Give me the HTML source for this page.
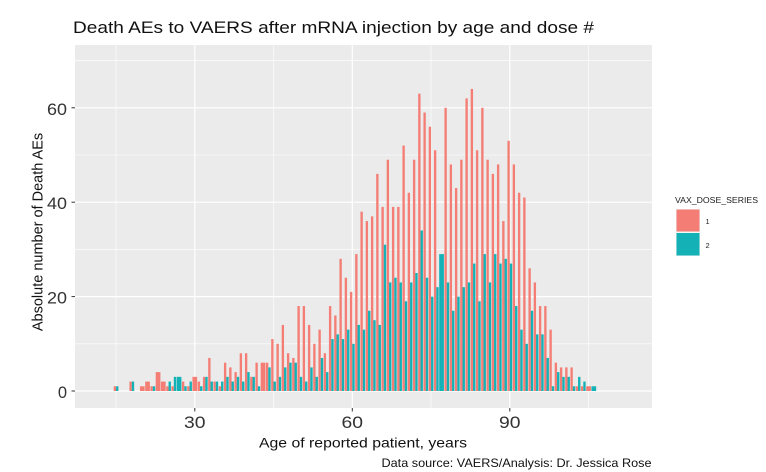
<!DOCTYPE html>
<html><head><meta charset="utf-8"><style>
html,body{margin:0;padding:0;background:#fff;}
svg{display:block;}
text{font-family:"Liberation Sans",Arial,sans-serif;}
</style></head><body>
<svg width="766" height="472" viewBox="0 0 766 472" xmlns="http://www.w3.org/2000/svg">
<rect x="0" y="0" width="766" height="472" fill="#fff"/>
<text x="73" y="33" font-size="16.5" fill="#111" textLength="521" lengthAdjust="spacingAndGlyphs">Death AEs to VAERS after mRNA injection by age and dose #</text>
<rect x="75" y="45" width="577" height="363" fill="#EBEBEB"/>
<g stroke="#fff" stroke-width="0.6">
<line x1="75" x2="652" y1="343.8" y2="343.8"/>
<line x1="75" x2="652" y1="249.4" y2="249.4"/>
<line x1="75" x2="652" y1="155" y2="155"/>
<line x1="75" x2="652" y1="60.6" y2="60.6"/>
<line y1="45" y2="408" x1="116.05" x2="116.05"/>
<line y1="45" y2="408" x1="273.55" x2="273.55"/>
<line y1="45" y2="408" x1="431.05" x2="431.05"/>
<line y1="45" y2="408" x1="588.55" x2="588.55"/>
</g>
<g stroke="#fff" stroke-width="1.2">
<line x1="75" x2="652" y1="391" y2="391"/>
<line x1="75" x2="652" y1="296.6" y2="296.6"/>
<line x1="75" x2="652" y1="202.2" y2="202.2"/>
<line x1="75" x2="652" y1="107.8" y2="107.8"/>
<line y1="45" y2="408" x1="194.8" x2="194.8"/>
<line y1="45" y2="408" x1="352.3" x2="352.3"/>
<line y1="45" y2="408" x1="509.8" x2="509.8"/>
</g>
<g transform="translate(37.3,391) scale(5.25,-4.72)">
<g fill="#F47E75">
<rect x="14.55" y="0" width="0.45" height="1"/>
<rect x="17.55" y="0" width="0.45" height="2"/>
<rect x="19.55" y="0" width="0.9" height="1"/>
<rect x="20.55" y="0" width="0.9" height="2"/>
<rect x="21.55" y="0" width="0.45" height="1"/>
<rect x="22.55" y="0" width="0.9" height="4"/>
<rect x="23.55" y="0" width="0.9" height="2"/>
<rect x="24.55" y="0" width="0.45" height="1"/>
<rect x="25.55" y="0" width="0.45" height="1"/>
<rect x="27.55" y="0" width="0.45" height="2"/>
<rect x="28.55" y="0" width="0.45" height="1"/>
<rect x="29.55" y="0" width="0.9" height="3"/>
<rect x="30.55" y="0" width="0.45" height="2"/>
<rect x="31.55" y="0" width="0.45" height="3"/>
<rect x="32.55" y="0" width="0.45" height="7"/>
<rect x="33.55" y="0" width="0.45" height="2"/>
<rect x="34.55" y="0" width="0.45" height="1"/>
<rect x="35.55" y="0" width="0.45" height="6"/>
<rect x="36.55" y="0" width="0.45" height="5"/>
<rect x="37.55" y="0" width="0.45" height="4"/>
<rect x="38.55" y="0" width="0.45" height="8"/>
<rect x="39.55" y="0" width="0.45" height="8"/>
<rect x="40.55" y="0" width="0.45" height="3"/>
<rect x="41.55" y="0" width="0.45" height="6"/>
<rect x="42.55" y="0" width="0.9" height="6"/>
<rect x="43.55" y="0" width="0.45" height="6"/>
<rect x="44.55" y="0" width="0.45" height="11"/>
<rect x="45.55" y="0" width="0.45" height="10"/>
<rect x="46.55" y="0" width="0.45" height="14"/>
<rect x="47.55" y="0" width="0.45" height="8"/>
<rect x="48.55" y="0" width="0.45" height="7"/>
<rect x="49.55" y="0" width="0.45" height="18"/>
<rect x="50.55" y="0" width="0.45" height="18"/>
<rect x="51.55" y="0" width="0.45" height="14"/>
<rect x="52.55" y="0" width="0.45" height="10"/>
<rect x="53.55" y="0" width="0.45" height="13"/>
<rect x="54.55" y="0" width="0.45" height="8"/>
<rect x="55.55" y="0" width="0.45" height="18"/>
<rect x="56.55" y="0" width="0.45" height="16"/>
<rect x="57.55" y="0" width="0.45" height="28"/>
<rect x="58.55" y="0" width="0.45" height="24"/>
<rect x="59.55" y="0" width="0.45" height="21"/>
<rect x="60.55" y="0" width="0.45" height="29"/>
<rect x="61.55" y="0" width="0.45" height="38"/>
<rect x="62.55" y="0" width="0.45" height="36"/>
<rect x="63.55" y="0" width="0.45" height="37"/>
<rect x="64.55" y="0" width="0.45" height="46"/>
<rect x="65.55" y="0" width="0.45" height="39"/>
<rect x="66.55" y="0" width="0.45" height="49"/>
<rect x="67.55" y="0" width="0.45" height="39"/>
<rect x="68.55" y="0" width="0.45" height="39"/>
<rect x="69.55" y="0" width="0.45" height="52"/>
<rect x="70.55" y="0" width="0.45" height="42"/>
<rect x="71.55" y="0" width="0.45" height="49"/>
<rect x="72.55" y="0" width="0.45" height="63"/>
<rect x="73.55" y="0" width="0.45" height="59"/>
<rect x="74.55" y="0" width="0.45" height="56"/>
<rect x="75.55" y="0" width="0.45" height="51"/>
<rect x="77.55" y="0" width="0.45" height="60"/>
<rect x="78.55" y="0" width="0.45" height="48"/>
<rect x="79.55" y="0" width="0.45" height="43"/>
<rect x="80.55" y="0" width="0.45" height="49"/>
<rect x="81.55" y="0" width="0.45" height="62"/>
<rect x="82.55" y="0" width="0.45" height="64"/>
<rect x="83.55" y="0" width="0.45" height="51"/>
<rect x="84.55" y="0" width="0.45" height="60"/>
<rect x="85.55" y="0" width="0.45" height="49"/>
<rect x="86.55" y="0" width="0.45" height="46"/>
<rect x="87.55" y="0" width="0.45" height="48"/>
<rect x="88.55" y="0" width="0.45" height="36"/>
<rect x="89.55" y="0" width="0.45" height="53"/>
<rect x="90.55" y="0" width="0.45" height="48"/>
<rect x="91.55" y="0" width="0.45" height="42"/>
<rect x="92.55" y="0" width="0.45" height="41"/>
<rect x="93.55" y="0" width="0.45" height="26"/>
<rect x="94.55" y="0" width="0.45" height="23"/>
<rect x="95.55" y="0" width="0.45" height="18"/>
<rect x="96.55" y="0" width="0.45" height="18"/>
<rect x="97.55" y="0" width="0.45" height="13"/>
<rect x="98.55" y="0" width="0.45" height="6"/>
<rect x="99.55" y="0" width="0.45" height="5"/>
<rect x="100.55" y="0" width="0.45" height="5"/>
<rect x="101.55" y="0" width="0.45" height="5"/>
<rect x="102.55" y="0" width="0.45" height="1"/>
<rect x="103.55" y="0" width="0.45" height="1"/>
<rect x="104.55" y="0" width="0.9" height="1"/>
</g>
<g fill="#14B2B6">
<rect x="15" y="0" width="0.45" height="1"/>
<rect x="18" y="0" width="0.45" height="2"/>
<rect x="22" y="0" width="0.45" height="1"/>
<rect x="25" y="0" width="0.45" height="2"/>
<rect x="26" y="0" width="0.45" height="3"/>
<rect x="26.55" y="0" width="0.9" height="3"/>
<rect x="28" y="0" width="0.45" height="1"/>
<rect x="29" y="0" width="0.45" height="2"/>
<rect x="31" y="0" width="0.45" height="1"/>
<rect x="32" y="0" width="0.45" height="3"/>
<rect x="33" y="0" width="0.45" height="2"/>
<rect x="34" y="0" width="0.45" height="2"/>
<rect x="35" y="0" width="0.45" height="2"/>
<rect x="36" y="0" width="0.45" height="3"/>
<rect x="37" y="0" width="0.45" height="2"/>
<rect x="38" y="0" width="0.45" height="3"/>
<rect x="39" y="0" width="0.45" height="2"/>
<rect x="40" y="0" width="0.45" height="4"/>
<rect x="41" y="0" width="0.45" height="3"/>
<rect x="42" y="0" width="0.45" height="1"/>
<rect x="44" y="0" width="0.45" height="5"/>
<rect x="45" y="0" width="0.45" height="2"/>
<rect x="46" y="0" width="0.45" height="3"/>
<rect x="47" y="0" width="0.45" height="5"/>
<rect x="48" y="0" width="0.45" height="6"/>
<rect x="49" y="0" width="0.45" height="6"/>
<rect x="50" y="0" width="0.45" height="3"/>
<rect x="51" y="0" width="0.45" height="2"/>
<rect x="52" y="0" width="0.45" height="5"/>
<rect x="53" y="0" width="0.45" height="3"/>
<rect x="54" y="0" width="0.45" height="7"/>
<rect x="55" y="0" width="0.45" height="4"/>
<rect x="56" y="0" width="0.45" height="11"/>
<rect x="57" y="0" width="0.45" height="12"/>
<rect x="58" y="0" width="0.45" height="11"/>
<rect x="59" y="0" width="0.45" height="13"/>
<rect x="60" y="0" width="0.45" height="10"/>
<rect x="61" y="0" width="0.45" height="14"/>
<rect x="62" y="0" width="0.45" height="13"/>
<rect x="63" y="0" width="0.45" height="17"/>
<rect x="64" y="0" width="0.45" height="15"/>
<rect x="65" y="0" width="0.45" height="14"/>
<rect x="66" y="0" width="0.45" height="31"/>
<rect x="67" y="0" width="0.45" height="23"/>
<rect x="68" y="0" width="0.45" height="24"/>
<rect x="69" y="0" width="0.45" height="23"/>
<rect x="70" y="0" width="0.45" height="19"/>
<rect x="71" y="0" width="0.45" height="23"/>
<rect x="72" y="0" width="0.45" height="25"/>
<rect x="73" y="0" width="0.45" height="34"/>
<rect x="74" y="0" width="0.45" height="24"/>
<rect x="75" y="0" width="0.45" height="20"/>
<rect x="76" y="0" width="0.45" height="22"/>
<rect x="76.55" y="0" width="0.9" height="29"/>
<rect x="78" y="0" width="0.45" height="23"/>
<rect x="79" y="0" width="0.45" height="17"/>
<rect x="80" y="0" width="0.45" height="20"/>
<rect x="81" y="0" width="0.45" height="22"/>
<rect x="82" y="0" width="0.45" height="23"/>
<rect x="83" y="0" width="0.45" height="27"/>
<rect x="84" y="0" width="0.45" height="19"/>
<rect x="85" y="0" width="0.45" height="29"/>
<rect x="86" y="0" width="0.45" height="23"/>
<rect x="87" y="0" width="0.45" height="29"/>
<rect x="88" y="0" width="0.45" height="27"/>
<rect x="89" y="0" width="0.45" height="28"/>
<rect x="90" y="0" width="0.45" height="27"/>
<rect x="91" y="0" width="0.45" height="18"/>
<rect x="92" y="0" width="0.45" height="13"/>
<rect x="93" y="0" width="0.45" height="10"/>
<rect x="94" y="0" width="0.45" height="17"/>
<rect x="95" y="0" width="0.45" height="12"/>
<rect x="96" y="0" width="0.45" height="12"/>
<rect x="97" y="0" width="0.45" height="7"/>
<rect x="98" y="0" width="0.45" height="1"/>
<rect x="99" y="0" width="0.45" height="4"/>
<rect x="100" y="0" width="0.45" height="3"/>
<rect x="101" y="0" width="0.45" height="3"/>
<rect x="102" y="0" width="0.45" height="1"/>
<rect x="103" y="0" width="0.45" height="3"/>
<rect x="104" y="0" width="0.45" height="2"/>
<rect x="105.55" y="0" width="0.9" height="1"/>
</g>
</g>
<g stroke="#333" stroke-width="1">
<line x1="71.5" x2="75" y1="391" y2="391"/>
<line x1="71.5" x2="75" y1="296.6" y2="296.6"/>
<line x1="71.5" x2="75" y1="202.2" y2="202.2"/>
<line x1="71.5" x2="75" y1="107.8" y2="107.8"/>
<line y1="408" y2="411.5" x1="194.8" x2="194.8"/>
<line y1="408" y2="411.5" x1="352.3" x2="352.3"/>
<line y1="408" y2="411.5" x1="509.8" x2="509.8"/>
</g>
<g font-size="16.5" fill="#333" text-anchor="end">
<text x="67" y="398">0</text>
<text x="67" y="303.6" textLength="20" lengthAdjust="spacingAndGlyphs">20</text>
<text x="67" y="209.2" textLength="20" lengthAdjust="spacingAndGlyphs">40</text>
<text x="67" y="114.8" textLength="20" lengthAdjust="spacingAndGlyphs">60</text>
</g>
<g font-size="16.5" fill="#333">
<text x="184" y="428" textLength="21.5" lengthAdjust="spacingAndGlyphs">30</text>
<text x="341.5" y="428" textLength="21.5" lengthAdjust="spacingAndGlyphs">60</text>
<text x="499" y="428" textLength="21.5" lengthAdjust="spacingAndGlyphs">90</text>
</g>
<text x="259" y="447.5" font-size="14" fill="#111" textLength="208" lengthAdjust="spacingAndGlyphs">Age of reported patient, years</text>
<text transform="translate(42.5,232) rotate(-90)" font-size="14.5" fill="#111" text-anchor="middle">Absolute number of Death AEs</text>
<text x="381.5" y="467" font-size="12" fill="#111" textLength="270" lengthAdjust="spacingAndGlyphs">Data source: VAERS/Analysis: Dr. Jessica Rose</text>
<text x="675" y="203" font-size="8" fill="#222" textLength="83" lengthAdjust="spacingAndGlyphs">VAX_DOSE_SERIES</text>
<rect x="676" y="209" width="24" height="23" fill="#F2F2F2"/>
<rect x="676.5" y="209.5" width="23" height="22" fill="#F47E75"/>
<rect x="676" y="232.5" width="24" height="23.5" fill="#F2F2F2"/>
<rect x="676.5" y="233" width="23" height="22.5" fill="#14B2B6"/>
<text x="705.5" y="224" font-size="7.5" fill="#222">1</text>
<text x="705.5" y="248" font-size="7.5" fill="#222">2</text>
</svg>
</body></html>
